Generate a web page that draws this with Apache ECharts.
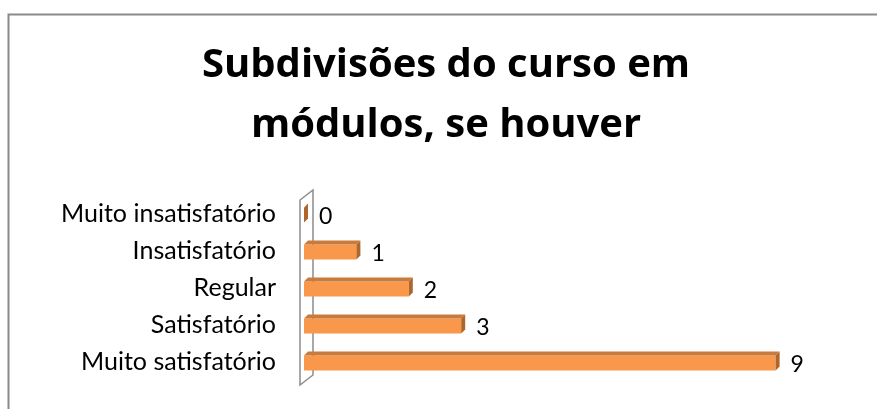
<!DOCTYPE html>
<html>
<head>
<meta charset="utf-8">
<script src="https://cdn.jsdelivr.net/npm/echarts@6/dist/echarts.min.js"></script>
<style>
  html, body { margin: 0; padding: 0; background: #fff; }
  #chart { width: 877px; height: 409px; }
</style>
</head>
<body>
<div id="chart"></div>
<script>
// data
const categories = ['Muito insatisfatório', 'Insatisfatório', 'Regular', 'Satisfatório', 'Muito satisfatório'];
const values = [0, 1, 2, 3, 9];
const titleText = 'Subdivisões do curso em\nmódulos, se houver';

const chart = echarts.init(document.getElementById('chart'));

function renderBar(params, api) {
  const idx = api.value(1);
  const val = api.value(0);
  const start = api.coord([0, idx]);
  const end = api.coord([val, idx]);
  const c = end[1];
  const x0 = start[0], x1 = end[0];
  const top = c - 6, bottom = c + 9, d = 4;
  return {
    type: 'group',
    children: [
      {
        type: 'rect',
        shape: { x: x0, y: top, width: x1 - x0, height: bottom - top },
        style: { fill: '#F9984A' }
      },
      {
        type: 'polygon',
        shape: { points: [[x0, top], [x0 + d, top - d], [x1 + d, top - d], [x1, top]] },
        style: { fill: '#C97B3C' }
      },
      {
        type: 'polygon',
        shape: { points: [[x1, top], [x1 + d, top - d], [x1 + d, bottom - d], [x1, bottom]] },
        style: { fill: '#B0652A' }
      },
      {
        type: 'text',
        style: {
          text: String(val),
          x: x1 + d + 11,
          y: c + 3,
          verticalAlign: 'middle',
          fill: '#000',
          font: '23px Lato'
        }
      }
    ]
  };
}

function renderWall(params, api) {
  const first = api.coord([0, 0]);
  const last = api.coord([0, categories.length - 1]);
  const half = api.size([0, 1])[1] / 2;
  const x0 = first[0];
  const bandTop = first[1] - half;
  const bandBot = last[1] + half;
  return {
    type: 'polygon',
    shape: {
      points: [
        [x0 - 4, bandTop + 5], [x0 + 9, bandTop - 5],
        [x0 + 9, bandBot - 5], [x0 - 4, bandBot + 5]
      ]
    },
    style: { fill: '#fff', stroke: '#8c8c8c', lineWidth: 1.5 }
  };
}

chart.setOption({
  animation: false,
  grid: { left: 304, right: 49, top: 195, height: 185 },
  xAxis: { type: 'value', min: 0, max: 10, show: false },
  yAxis: {
    type: 'category',
    data: categories,
    inverse: true,
    axisLine: { show: false },
    axisTick: { show: false },
    axisLabel: { color: '#000', fontSize: 25, fontFamily: 'Lato', margin: 28, padding: [6, 0, 0, 0] }
  },
  graphic: [
    {
      type: 'rect',
      left: 6, top: 12,
      shape: { width: 1000, height: 600 },
      style: { fill: 'none', stroke: '#8a8a8a', lineWidth: 2 },
      z: -1
    },
    {
      type: 'text',
      x: 446, y: 96,
      style: {
        text: titleText,
        textAlign: 'center',
        textVerticalAlign: 'middle',
        fill: '#000',
        font: 'bold 40px "Open Sans"',
        lineHeight: 60
      }
    }
  ],
  series: [
    {
      type: 'custom',
      renderItem: renderWall,
      data: [[0, 0]],
      encode: { x: 0, y: 1 },
      z: 1,
      silent: true
    },
    {
      type: 'custom',
      renderItem: renderBar,
      data: values.map((v, i) => [v, i]),
      encode: { x: 0, y: 1 },
      z: 2
    }
  ]
});
</script>
</body>
</html>
